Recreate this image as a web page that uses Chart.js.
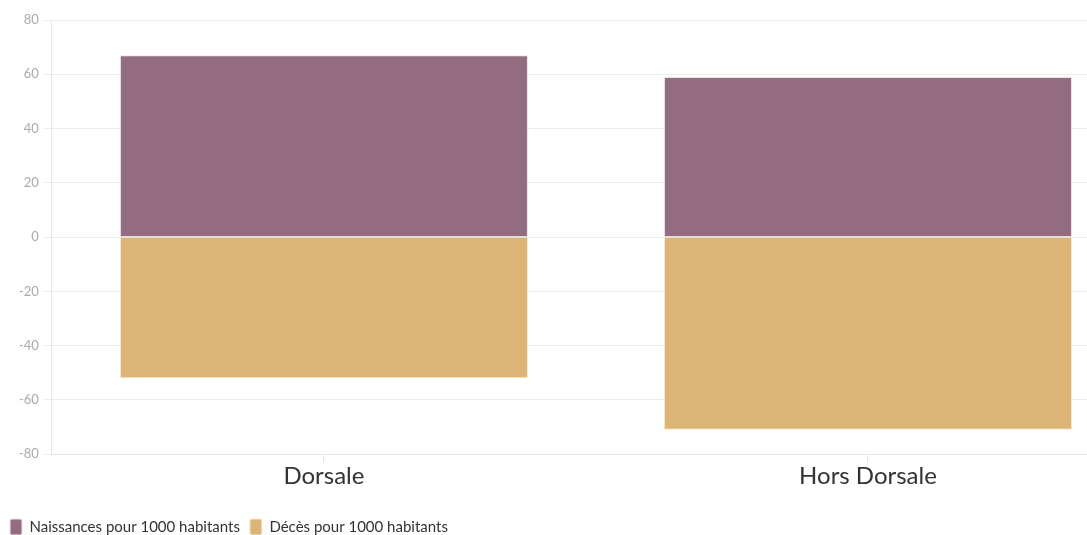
<!DOCTYPE html>
<html lang="fr">
<head>
    <meta charset="UTF-8">
    <title>Naissances et décès</title>
    <script src="https://cdn.jsdelivr.net/npm/chart.js"></script>
    <style>
        html, body {
            margin: 0;
            padding: 0;
            overflow: hidden;
            background: #fff;
        }
        #wrap {
            width: 1145px;
            height: 535px;
        }
    </style>
</head>
<body>
<div id="wrap">
    <canvas id="chart"></canvas>
</div>
<script>
    // données
    const categories = ['Dorsale', 'Hors Dorsale'];
    const naissances = [67, 59];
    const deces = [-52, -71];
    const yTicks = [-80, -60, -40, -20, 0, 20, 40, 60, 80];

    new Chart(document.getElementById('chart'), {
        type: 'bar',
        data: {
            labels: categories,
            datasets: [{
                label: 'Naissances pour 1000 habitants',
                data: naissances,
                backgroundColor: 'rgba(148,108,128,1)',
                borderColor: 'rgba(240,225,232,1)',
                borderWidth: 1
            }, {
                label: 'Décès pour 1000 habitants',
                data: deces,
                backgroundColor: 'rgba(220,180,118,1)',
                borderColor: 'rgba(245,232,210,1)',
                borderWidth: 1
            }]
        },
        options: {
            responsive: true,
            maintainAspectRatio: false,
            animation: false,
            layout: {
                padding: { top: 20, right: 5, left: 0, bottom: -10 }
            },
            datasets: {
                bar: {
                    categoryPercentage: 0.75,
                    barPercentage: 1
                }
            },
            scales: {
                x: {
                    stacked: true,
                    afterFit: (axis) => { axis.height += 18; },
                    grid: {
                        offset: false,
                        drawOnChartArea: false,
                        color: '#e6e6e6',
                        tickLength: 8
                    },
                    border: { color: '#e6e6e6' },
                    ticks: {
                        color: '#333',
                        font: { family: 'Lato', size: 24 },
                        padding: 0
                    }
                },
                y: {
                    stacked: true,
                    min: -80,
                    max: 80,
                    afterFit: (axis) => { axis.width += 14; },
                    afterBuildTicks: (axis) => {
                        axis.ticks = yTicks.map(v => ({ value: v }));
                    },
                    grid: {
                        color: '#ececec',
                        tickLength: 8
                    },
                    border: { color: '#e6e6e6' },
                    ticks: {
                        color: '#aaa',
                        font: { family: 'Lato', size: 13 },
                        padding: 5
                    }
                }
            },
            plugins: {
                legend: {
                    position: 'bottom',
                    align: 'start',
                    labels: {
                        boxWidth: 12,
                        boxHeight: 16,
                        useBorderRadius: true,
                        borderRadius: 2,
                        color: '#333',
                        font: { family: 'Lato', size: 15 },
                        padding: 10
                    }
                },
                tooltip: { enabled: false }
            }
        }
    });
</script>
</body>
</html>
